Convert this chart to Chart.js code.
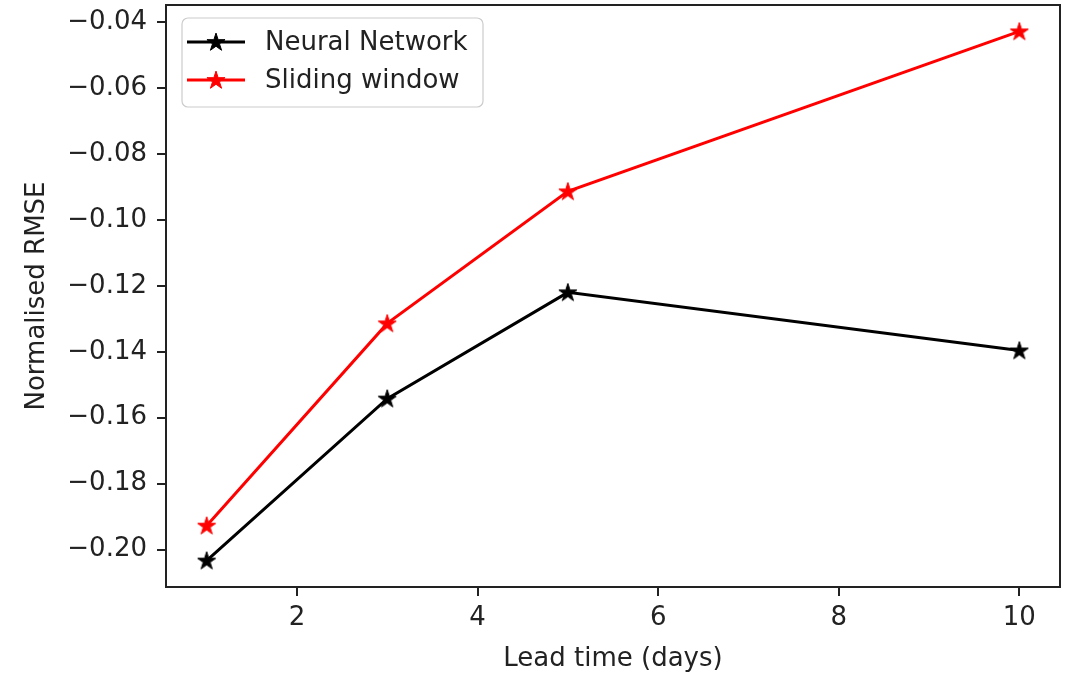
<!DOCTYPE html>
<html><head><meta charset="utf-8">
<script src="https://cdn.jsdelivr.net/npm/chart.js@4/dist/chart.umd.min.js"></script>
<style>html,body{margin:0;padding:0;background:#fff}#wrap{width:1071px;height:673px}</style>
</head><body><div id="wrap"><canvas id="c" width="1071" height="673"></canvas></div>
<script>
// ---- data ----
const leadTimes = [1, 3, 5, 10];
const neuralNetwork = [-0.2033, -0.1542, -0.1220, -0.1396];
const slidingWindow = [-0.1927, -0.1314, -0.0914, -0.0429];
const seriesNames = ['Neural Network', 'Sliding window'];
const xTickValues = [2, 4, 6, 8, 10];
const yTickValues = [-0.20, -0.18, -0.16, -0.14, -0.12, -0.10, -0.08, -0.06, -0.04];
const xTitle = 'Lead time (days)';
const yTitle = 'Normalised RMSE';

// ---- styling ----
const FONT = 'DejaVu Sans';
const FS = 26;
const AXIS = '#222222';
const colors = ['#000000', '#ff0000'];

function makeStar(color, size) {
  const c = document.createElement('canvas');
  c.width = size; c.height = size;
  const g = c.getContext('2d');
  const cx = size / 2, cy = size / 2 + 0.6, R = size / 2 - 0.5, r = R * 0.382;
  g.beginPath();
  for (let i = 0; i < 10; i++) {
    const rad = i % 2 === 0 ? R : r;
    const a = -Math.PI / 2 + i * Math.PI / 5;
    const x = cx + rad * Math.cos(a), y = cy + rad * Math.sin(a);
    i === 0 ? g.moveTo(x, y) : g.lineTo(x, y);
  }
  g.closePath();
  g.fillStyle = color; g.fill();
  g.lineWidth = 1; g.strokeStyle = color; g.stroke();
  return c;
}
const stars = colors.map(c => makeStar(c, 20));

const toXY = arr => leadTimes.map((x, i) => ({ x, y: arr[i] }));
const fmtY = v => (v < 0 ? '\u2212' : '') + Math.abs(v).toFixed(2);

const framePlugin = {
  id: 'frame',
  afterDatasetsDraw(chart) {
    const { ctx, chartArea: a } = chart;
    ctx.save();
    ctx.strokeStyle = AXIS; ctx.lineWidth = 2;
    ctx.strokeRect(a.left, a.top, a.right - a.left, a.bottom - a.top);
    ctx.restore();
  }
};

const legendPlugin = {
  id: 'mplLegend',
  afterDraw(chart) {
    const { ctx } = chart;
    const bx = 182, by = 18, bw = 301, bh = 89, rr = 6;
    ctx.save();
    ctx.beginPath();
    ctx.moveTo(bx + rr, by);
    ctx.arcTo(bx + bw, by, bx + bw, by + bh, rr);
    ctx.arcTo(bx + bw, by + bh, bx, by + bh, rr);
    ctx.arcTo(bx, by + bh, bx, by, rr);
    ctx.arcTo(bx, by, bx + bw, by, rr);
    ctx.closePath();
    ctx.fillStyle = 'rgba(255,255,255,0.8)';
    ctx.fill();
    ctx.strokeStyle = '#cccccc'; ctx.lineWidth = 1.2;
    ctx.stroke();
    chart.data.datasets.forEach((ds, i) => {
      const y = 42 + i * 38;
      ctx.strokeStyle = ds.borderColor; ctx.lineWidth = 3;
      ctx.beginPath(); ctx.moveTo(187, y); ctx.lineTo(245, y); ctx.stroke();
      const s = stars[i];
      ctx.drawImage(s, 216 - s.width / 2, y - s.height / 2);
      ctx.fillStyle = AXIS;
      ctx.font = FS + 'px "' + FONT + '"';
      ctx.textBaseline = 'middle'; ctx.textAlign = 'left';
      ctx.fillText(ds.label, 265, y + 1);
    });
    ctx.restore();
  }
};

new Chart(document.getElementById('c'), {
  type: 'line',
  data: {
    datasets: [
      { label: seriesNames[0], data: toXY(neuralNetwork), borderColor: colors[0], backgroundColor: colors[0],
        borderWidth: 3, pointStyle: stars[0], pointRadius: 10, tension: 0, fill: false, clip: false },
      { label: seriesNames[1], data: toXY(slidingWindow), borderColor: colors[1], backgroundColor: colors[1],
        borderWidth: 3, pointStyle: stars[1], pointRadius: 10, tension: 0, fill: false, clip: false }
    ]
  },
  options: {
    responsive: false,
    animation: false,
    devicePixelRatio: 1,
    layout: { autoPadding: false, padding: { top: 5, right: 11, left: 0, bottom: 0 } },
    plugins: { legend: { display: false }, tooltip: { enabled: false } },
    scales: {
      x: {
        type: 'linear', min: 0.55, max: 10.45,
        afterBuildTicks: s => { s.ticks = xTickValues.map(v => ({ value: v })); },
        afterFit: s => { s.height = 86; s.paddingLeft = 0; s.paddingRight = 0; },
        ticks: { color: AXIS, font: { family: FONT, size: FS }, padding: 7, maxRotation: 0, autoSkip: false },
        grid: { drawOnChartArea: false, drawTicks: true, tickLength: 9, color: AXIS, lineWidth: 2 },
        border: { display: false },
        title: { display: true, text: xTitle, color: AXIS, font: { family: FONT, size: FS }, padding: { top: 0, bottom: -2 } }
      },
      y: {
        type: 'linear', min: -0.2113, max: -0.0349,
        afterBuildTicks: s => { s.ticks = yTickValues.map(v => ({ value: v })); },
        afterFit: s => { s.width = 166; s.paddingTop = 0; s.paddingBottom = 0; },
        ticks: { color: AXIS, font: { family: FONT, size: FS }, padding: 10, callback: v => fmtY(v) },
        grid: { drawOnChartArea: false, drawTicks: true, tickLength: 9, color: AXIS, lineWidth: 2 },
        border: { display: false },
        title: { display: true, text: yTitle, color: AXIS, font: { family: FONT, size: FS }, padding: { top: 22, bottom: 0 } }
      }
    }
  },
  plugins: [framePlugin, legendPlugin]
});
</script></body></html>
